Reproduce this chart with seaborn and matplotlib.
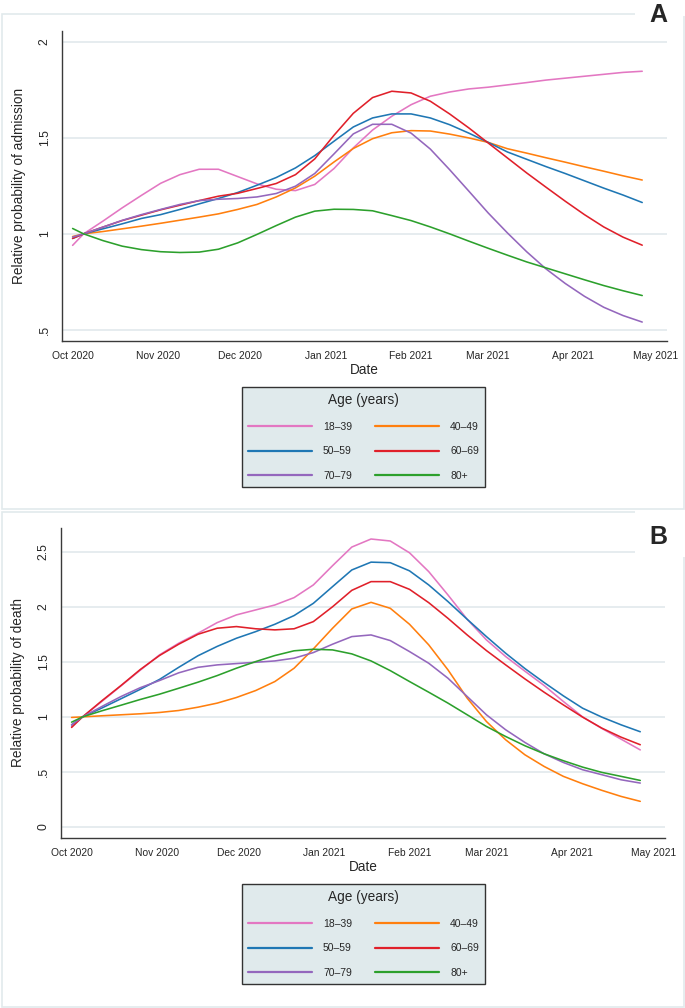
import pandas as pd
import seaborn as sns
import matplotlib
matplotlib.use("Agg")
from matplotlib import pyplot as plt
import matplotlib.dates as mdates
from matplotlib.lines import Line2D
from matplotlib.patches import Rectangle

# weekly estimates (first point is 1 Oct 2020)
dates = ["2020-10-01", "2020-10-05", "2020-10-12", "2020-10-19", "2020-10-26",
         "2020-11-02", "2020-11-09", "2020-11-16", "2020-11-23", "2020-11-30",
         "2020-12-07", "2020-12-14", "2020-12-21", "2020-12-28", "2021-01-04",
         "2021-01-11", "2021-01-18", "2021-01-25", "2021-02-01", "2021-02-08",
         "2021-02-15", "2021-02-22", "2021-03-01", "2021-03-08", "2021-03-15",
         "2021-03-22", "2021-03-29", "2021-04-05", "2021-04-12", "2021-04-19",
         "2021-04-26"]
ages = ["18–39", "40–49", "50–59", "60–69", "70–79", "80+"]

# panel A: relative probability of admission
adm_18_39 = [0.94, 1.00, 1.066, 1.135, 1.20, 1.263, 1.308, 1.336, 1.336, 1.298, 1.26,
             1.232, 1.225, 1.257, 1.34, 1.447, 1.54, 1.612, 1.672, 1.716, 1.738,
             1.754, 1.763, 1.775, 1.787, 1.80, 1.81, 1.82, 1.83, 1.84, 1.846]
adm_40_49 = [0.986, 1.0, 1.012, 1.026, 1.04, 1.055, 1.071, 1.087, 1.104, 1.127, 1.153,
             1.192, 1.239, 1.30, 1.374, 1.444, 1.495, 1.526, 1.537, 1.535, 1.519,
             1.499, 1.476, 1.443, 1.42, 1.396, 1.373, 1.349, 1.326, 1.302, 1.28]
adm_50_59 = [0.976, 1.0, 1.026, 1.052, 1.08, 1.10, 1.127, 1.156, 1.184, 1.215, 1.253,
             1.293, 1.343, 1.407, 1.482, 1.556, 1.603, 1.624, 1.624, 1.603, 1.568,
             1.524, 1.476, 1.426, 1.388, 1.35, 1.314, 1.276, 1.238, 1.202, 1.163]
adm_60_69 = [0.976, 1.0, 1.035, 1.069, 1.097, 1.125, 1.149, 1.173, 1.196, 1.211, 1.236,
             1.262, 1.308, 1.39, 1.513, 1.627, 1.709, 1.742, 1.733, 1.69, 1.624,
             1.551, 1.473, 1.395, 1.317, 1.243, 1.17, 1.10, 1.036, 0.983, 0.941]
adm_70_79 = [0.983, 1.0, 1.035, 1.07, 1.10, 1.127, 1.153, 1.173, 1.18, 1.184, 1.192,
             1.21, 1.248, 1.314, 1.416, 1.52, 1.57, 1.57, 1.524, 1.441, 1.334,
             1.222, 1.109, 1.005, 0.907, 0.818, 0.742, 0.675, 0.618, 0.575, 0.541]
adm_80 = [1.028, 1.0, 0.965, 0.936, 0.918, 0.907, 0.903, 0.905, 0.92, 0.953, 0.997,
          1.043, 1.087, 1.118, 1.128, 1.127, 1.12, 1.095, 1.069, 1.036, 1.0,
          0.962, 0.925, 0.889, 0.854, 0.823, 0.792, 0.761, 0.731, 0.704, 0.679]

# panel B: relative probability of death
death_18_39 = [0.913, 1.0, 1.14, 1.282, 1.424, 1.563, 1.669, 1.759, 1.856, 1.926, 1.971,
               2.016, 2.083, 2.198, 2.373, 2.542, 2.615, 2.597, 2.49, 2.319, 2.107,
               1.886, 1.699, 1.548, 1.415, 1.285, 1.14, 1.0, 0.895, 0.798, 0.70]
death_40_49 = [0.995, 1.0, 1.01, 1.019, 1.028, 1.04, 1.058, 1.088, 1.125, 1.176, 1.239,
               1.321, 1.442, 1.617, 1.805, 1.98, 2.04, 1.986, 1.841, 1.654, 1.427,
               1.17, 0.958, 0.792, 0.656, 0.55, 0.46, 0.393, 0.333, 0.278, 0.233]
death_50_59 = [0.928, 1.0, 1.08, 1.165, 1.25, 1.34, 1.45, 1.555, 1.64, 1.714, 1.774,
               1.841, 1.92, 2.031, 2.183, 2.334, 2.405, 2.40, 2.326, 2.198, 2.047,
               1.886, 1.729, 1.578, 1.439, 1.312, 1.191, 1.079, 0.998, 0.928, 0.865]
death_60_69 = [0.904, 1.0, 1.146, 1.285, 1.43, 1.557, 1.66, 1.75, 1.805, 1.82, 1.80,
               1.79, 1.80, 1.865, 2.0, 2.149, 2.228, 2.228, 2.158, 2.037, 1.895,
               1.744, 1.602, 1.472, 1.345, 1.224, 1.109, 0.998, 0.898, 0.816, 0.747]
death_70_79 = [0.928, 1.0, 1.094, 1.185, 1.265, 1.33, 1.40, 1.45, 1.472, 1.484, 1.496,
               1.508, 1.533, 1.584, 1.66, 1.729, 1.744, 1.693, 1.593, 1.487, 1.351,
               1.185, 1.019, 0.883, 0.768, 0.665, 0.586, 0.52, 0.475, 0.429, 0.399]
death_80 = [0.952, 1.0, 1.055, 1.106, 1.158, 1.206, 1.26, 1.315, 1.375, 1.442, 1.502,
            1.557, 1.60, 1.614, 1.608, 1.572, 1.508, 1.42, 1.321, 1.224, 1.125,
            1.019, 0.913, 0.822, 0.738, 0.665, 0.602, 0.544, 0.496, 0.46, 0.423]

month_ticks = ["2020-10-01", "2020-11-01", "2020-12-01", "2021-01-01",
               "2021-02-01", "2021-03-01", "2021-04-01", "2021-05-01"]
adm_yticks = [0.5, 1, 1.5, 2]
adm_ylabels = [".5", "1", "1.5", "2"]
death_yticks = [0, 0.5, 1, 1.5, 2, 2.5]
death_ylabels = ["0", ".5", "1", "1.5", "2", "2.5"]

colors = {"18–39": "#e377c2", "40–49": "#ff7f0e", "50–59": "#1f77b4",
          "60–69": "#e0202a", "70–79": "#9467bd", "80+": "#2ca02c"}

W, H = 685, 1008
GRID = "#e4ebee"
FRAME = "#e2eaec"
SPINE = "#3a3a3a"


def px_box(left, top, right, bottom):
    return [left / W, 1 - bottom / H, (right - left) / W, (bottom - top) / H]


def to_long(series):
    frames = []
    for age, vals in zip(ages, series):
        frames.append(pd.DataFrame({"date": pd.to_datetime(dates), "value": vals, "age": age}))
    return pd.concat(frames, ignore_index=True)


def draw_panel(ax, df, yticks, ylabels, ylim, ylabel):
    sns.lineplot(data=df, x="date", y="value", hue="age", palette=colors,
                 hue_order=ages, estimator=None, linewidth=1.15, legend=False, ax=ax)
    start = pd.Timestamp("2020-10-01")
    ax.set_xlim(start - pd.Timedelta(days=3.85), start + pd.Timedelta(days=216))
    ax.set_ylim(*ylim)
    ax.set_xticks(pd.to_datetime(month_ticks))
    ax.xaxis.set_major_formatter(mdates.DateFormatter("%b %Y"))
    ax.set_yticks(yticks)
    ax.set_yticklabels(ylabels, rotation=90, va="center")
    ax.tick_params(axis="x", length=5, width=0.9, color=SPINE, pad=2.5, labelsize=7.4)
    ax.tick_params(axis="y", length=5, width=0.9, color=SPINE, pad=3, labelsize=8.8)
    ax.grid(axis="y", color=GRID, lw=1.3)
    ax.grid(axis="x", visible=False)
    ax.set_axisbelow(True)
    for side in ["top", "right"]:
        ax.spines[side].set_visible(False)
    for side in ["left", "bottom"]:
        ax.spines[side].set_color(SPINE)
        ax.spines[side].set_linewidth(1.0)
    ax.set_xlabel("Date", fontsize=9.8, labelpad=0)
    ax.set_ylabel(ylabel, fontsize=9.8)
    ax.yaxis.set_label_coords(-0.06, 0.5)
    ax.xaxis.set_label_coords(0.5, -0.071)


def add_legend(ax, top_px):
    order = ["18–39", "50–59", "70–79", "40–49", "60–69", "80+"]
    handles = [Line2D([0], [0], color=colors[a], lw=1.6) for a in order]
    leg = ax.legend(handles, order, ncol=2, loc="upper center",
                    bbox_to_anchor=(363.5 / W, 1 - top_px / H), bbox_transform=fig.transFigure,
                    borderaxespad=0, title="Age (years)", fontsize=7.5, title_fontsize=9.8,
                    frameon=True, fancybox=False, framealpha=1,
                    edgecolor="#333333", facecolor="#e0eaec",
                    handlelength=6.1, handletextpad=1.1, columnspacing=2.2,
                    labelspacing=1.4, borderpad=0.6)
    leg.get_frame().set_linewidth(1.0)


sns.set_theme(style="white")
plt.rcParams["font.family"] = ["Liberation Sans", "DejaVu Sans"]

fig = plt.figure(figsize=(W / 100, H / 100), dpi=100)

# panel frames
for top, bottom in [(14, 509), (512, 1006.5)]:
    fig.add_artist(Rectangle((2 / W, 1 - bottom / H), 681.5 / W, (bottom - top) / H,
                             transform=fig.transFigure, fill=False, ec=FRAME, lw=1.2, zorder=1))

ax_a = fig.add_axes(px_box(62, 30.7, 667, 340.7))
ax_b = fig.add_axes(px_box(61, 528, 665, 837.7))

draw_panel(ax_a, to_long([adm_18_39, adm_40_49, adm_50_59, adm_60_69, adm_70_79, adm_80]),
           adm_yticks, adm_ylabels, (0.444, 2.057), "Relative probability of admission")
draw_panel(ax_b, to_long([death_18_39, death_40_49, death_50_59, death_60_69, death_70_79, death_80]),
           death_yticks, death_ylabels, (-0.097, 2.715), "Relative probability of death")

add_legend(ax_a, 387)
add_legend(ax_b, 884)

# white patches behind the panel letters
for top, bottom in [(0, 16), (511, 557)]:
    fig.add_artist(Rectangle((635 / W, 1 - bottom / H), 50 / W, (bottom - top) / H,
                             transform=fig.transFigure, fc="white", ec="none", zorder=2))
fig.text(658 / W, 1 - 14.5 / H, "A", ha="center", va="center", fontsize=18,
         fontweight="bold", zorder=3)
fig.text(658 / W, 1 - 537 / H, "B", ha="center", va="center", fontsize=18,
         fontweight="bold", zorder=3)

fig.savefig("out.png", dpi=100)
